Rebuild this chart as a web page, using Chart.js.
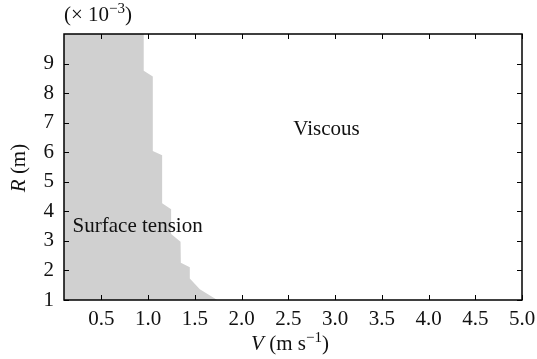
<!DOCTYPE html>
<html>
<head>
<meta charset="utf-8">
<script src="https://cdn.jsdelivr.net/npm/chart.js@4"></script>
<style>
  body { margin: 0; background: #fff; }
  #wrap { width: 537px; height: 359px; }
</style>
</head>
<body>
<div id="wrap"><canvas id="myChart" width="537" height="359"></canvas></div>
<script>
// boundary between the two regimes, V (m/s) against R (x 10^-3 m)
const boundaryV = [0.1, 0.953, 0.953, 1.05, 1.05, 1.15, 1.15, 1.246, 1.246, 1.347, 1.35, 1.446, 1.446, 1.553, 1.74];
const boundaryR = [10, 10, 8.76, 8.56, 6.04, 5.90, 4.27, 4.07, 3.23, 2.97, 2.26, 2.11, 1.73, 1.36, 1.0];

const xTicks = [0.5, 1.0, 1.5, 2.0, 2.5, 3.0, 3.5, 4.0, 4.5, 5.0];
const yTicks = [1, 2, 3, 4, 5, 6, 7, 8, 9];

const regionLabels = ["Viscous", "Surface tension"];
const regionV = [2.553, 0.192];
const regionR = [6.78, 3.5];

const FONT = "Liberation Serif";

// draws a row of text pieces (for italics and superscripts)
function drawRuns(ctx, runs, x, y, align) {
  let w = 0;
  runs.forEach(r => { ctx.font = r.font; w += ctx.measureText(r.t).width; });
  let cx = align === "center" ? x - w / 2 : x;
  runs.forEach(r => {
    ctx.font = r.font;
    ctx.fillText(r.t, cx, y + (r.dy || 0));
    cx += ctx.measureText(r.t).width;
  });
}

const framePlugin = {
  id: "frame",
  afterDraw(chart) {
    const { ctx, chartArea: a, scales } = chart;
    ctx.save();
    ctx.strokeStyle = "#000";
    ctx.lineWidth = 1;
    ctx.beginPath();
    scales.x.ticks.forEach(t => {
      const px = Math.round(scales.x.getPixelForValue(t.value)) + 0.5;
      ctx.moveTo(px, a.bottom); ctx.lineTo(px, a.bottom - 5);
      ctx.moveTo(px, a.top); ctx.lineTo(px, a.top + 5);
    });
    scales.y.ticks.forEach(t => {
      const py = Math.round(scales.y.getPixelForValue(t.value)) + 0.5;
      ctx.moveTo(a.left, py); ctx.lineTo(a.left + 5, py);
      ctx.moveTo(a.right, py); ctx.lineTo(a.right - 5, py);
    });
    ctx.stroke();
    ctx.lineWidth = 1.5;
    ctx.strokeRect(a.left, a.top, a.right - a.left, a.bottom - a.top);

    ctx.fillStyle = "#111";
    ctx.textBaseline = "middle";
    ctx.textAlign = "left";
    ctx.font = "21px " + FONT;
    regionLabels.forEach((s, i) => {
      ctx.fillText(s, scales.x.getPixelForValue(regionV[i]), scales.y.getPixelForValue(regionR[i]));
    });

    ctx.textBaseline = "alphabetic";
    const reg = "21px " + FONT, ital = "italic 21px " + FONT, sup = "15px " + FONT;
    drawRuns(ctx, [
      { t: "V", font: ital }, { t: " (m s", font: reg },
      { t: "\u22121", font: sup, dy: -8 }, { t: ")", font: reg }
    ], 290, 350, "center");
    drawRuns(ctx, [
      { t: "(\u00d7 10", font: reg }, { t: "\u22123", font: sup, dy: -8 }, { t: ")", font: reg }
    ], 64, 21, "left");
    ctx.translate(25, 168);
    ctx.rotate(-Math.PI / 2);
    drawRuns(ctx, [{ t: "R", font: ital }, { t: " (m)", font: reg }], 0, 0, "center");
    ctx.restore();
  }
};

const ctx = document.getElementById("myChart");

const myChart = new Chart(ctx, {
  type: "line",
  plugins: [framePlugin],
  data: {
    datasets: [
      {
        data: boundaryV.map((v, i) => ({ x: v, y: boundaryR[i] })),
        borderWidth: 0,
        borderColor: "rgba(0,0,0,0)",
        pointRadius: 0,
        tension: 0,
        fill: "start",
        backgroundColor: "#d0d0d0",
      },
    ],
  },
  options: {
    responsive: false,
    animation: false,
    layout: { padding: { left: 0, right: 15, top: 34, bottom: 0 } },
    plugins: {
      legend: { display: false },
      tooltip: { enabled: false },
    },
    scales: {
      x: {
        type: "linear",
        min: 0.1,
        max: 5.0,
        grid: { display: false, drawTicks: false },
        border: { display: false },
        afterBuildTicks: (scale) => { scale.ticks = xTicks.map(v => ({ value: v })); },
        afterFit: (scale) => { scale.height = 59; scale.paddingLeft = 0; scale.paddingRight = 0; },
        ticks: {
          padding: 7,
          color: "#111",
          font: { family: FONT, size: 21 },
          callback: (v) => Number(v).toFixed(1),
        },
      },
      y: {
        type: "linear",
        min: 1,
        max: 10,
        grid: { display: false, drawTicks: false },
        border: { display: false },
        afterBuildTicks: (scale) => { scale.ticks = yTicks.map(v => ({ value: v })); },
        afterFit: (scale) => { scale.width = 64; scale.paddingTop = 0; scale.paddingBottom = 0; },
        ticks: {
          padding: 10,
          color: "#111",
          font: { family: FONT, size: 21 },
        },
      },
    },
  },
});
</script>
</body>
</html>
